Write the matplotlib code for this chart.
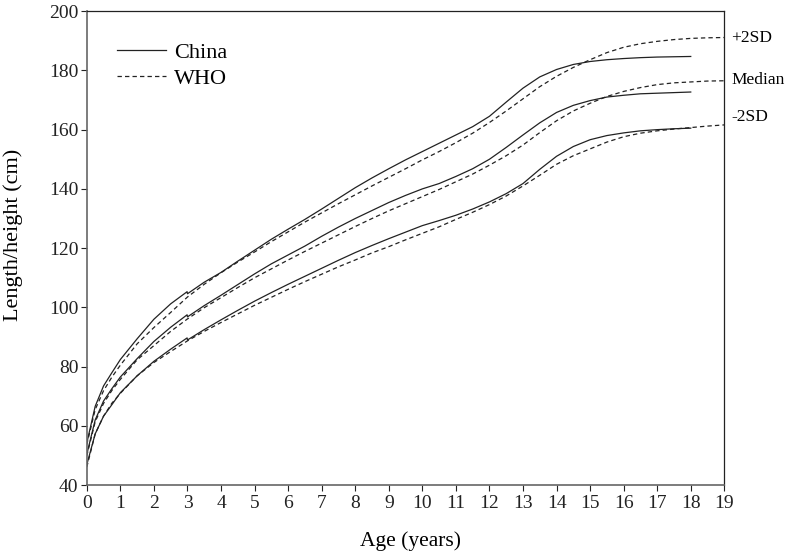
import matplotlib
matplotlib.use('Agg')
import matplotlib.pyplot as plt

plt.rcParams['font.family'] = ['Liberation Serif', 'DejaVu Serif']

# China growth standard (boys), ages 0-18; 2.99 = last lying length before standing height
age_cn = [0, 0.25, 0.5, 0.75, 1, 1.5, 2, 2.5, 2.99, 3, 3.5, 4, 4.5, 5, 5.5, 6, 6.5, 7, 7.5, 8,
          8.5, 9, 9.5, 10, 10.5, 11, 11.5, 12, 12.5, 13, 13.5, 14, 14.5, 15, 15.5, 16, 16.5,
          17, 17.5, 18]
cn_p2sd = [54.2, 66.6, 73.5, 78.0, 82.4, 89.4, 96.0, 101.2, 105.3, 104.6, 108.5, 111.8, 115.6,
           119.3, 123.0, 126.4, 129.7, 133.2, 136.8, 140.4, 143.7, 146.8, 149.8, 152.6, 155.4,
           158.2, 161.0, 164.5, 169.3, 174.0, 177.8, 180.3, 182.0, 183.0, 183.6, 184.0, 184.3,
           184.5, 184.6, 184.7]
cn_med = [50.4, 62.0, 68.4, 72.6, 76.5, 82.7, 88.5, 93.3, 97.5, 96.8, 100.6, 104.1, 107.7,
          111.3, 114.7, 117.7, 120.7, 124.0, 127.1, 130.0, 132.7, 135.4, 137.8, 140.0, 141.8,
          144.2, 146.8, 150.0, 154.0, 158.2, 162.3, 165.8, 168.2, 169.8, 171.0, 171.6, 172.1,
          172.3, 172.5, 172.7]
cn_m2sd = [46.9, 57.3, 63.3, 67.2, 71.2, 76.9, 81.8, 85.9, 89.7, 89.0, 92.5, 95.8, 99.0, 102.1,
           105.0, 107.8, 110.5, 113.2, 115.9, 118.5, 120.9, 123.2, 125.4, 127.6, 129.3, 131.1,
           133.2, 135.6, 138.4, 141.8, 146.6, 151.0, 154.3, 156.6, 158.0, 158.9, 159.6, 160.0,
           160.3, 160.5]

# WHO standard/reference (boys), ages 0-19
age_who = [0, 0.25, 0.5, 0.75, 1, 1.5, 2, 2.5, 3, 3.5, 4, 4.5, 5, 5.5, 6, 6.5, 7, 7.5, 8, 8.5,
           9, 9.5, 10, 10.5, 11, 11.5, 12, 12.5, 13, 13.5, 14, 14.5, 15, 15.5, 16, 16.5, 17,
           17.5, 18, 18.5, 19]
who_p2sd = [53.7, 65.5, 71.9, 76.5, 80.5, 87.7, 93.2, 98.3, 103.5, 107.8, 111.7, 115.3, 118.7,
            122.2, 125.5, 128.8, 131.9, 135.0, 138.0, 141.0, 143.9, 146.8, 149.8, 152.6, 155.6,
            158.8, 162.4, 166.3, 170.4, 174.5, 178.0, 181.0, 183.6, 186.0, 187.8, 189.0, 189.8,
            190.4, 190.8, 191.0, 191.1]
who_med = [49.9, 61.4, 67.6, 72.0, 75.7, 82.3, 87.1, 91.9, 96.1, 99.9, 103.3, 106.7, 110.0,
           113.0, 116.0, 118.9, 121.7, 124.5, 127.3, 130.0, 132.6, 135.0, 137.4, 139.8, 142.4,
           145.0, 148.0, 151.2, 154.8, 159.0, 163.0, 166.3, 168.9, 171.2, 172.9, 174.2, 175.2,
           175.8, 176.1, 176.4, 176.5]
who_m2sd = [46.1, 57.3, 63.3, 67.7, 71.0, 76.9, 81.4, 85.1, 88.7, 91.9, 94.9, 97.8, 100.7,
            103.4, 106.1, 108.7, 111.2, 113.7, 116.0, 118.4, 120.5, 122.8, 125.0, 127.2, 129.7,
            132.1, 134.7, 137.6, 141.0, 144.6, 148.3, 151.2, 153.5, 155.8, 157.6, 158.8, 159.6,
            160.2, 160.7, 161.2, 161.6]

side_labels = ['+2SD', 'Median', '-2SD']
side_label_y = [191.1, 176.7, 164.3]

fig = plt.figure(figsize=(7.89, 5.57), dpi=100)
ax = fig.add_axes([0.110, 0.129, 0.808, 0.851])

lw = 0.9
dash = (0, (3.5, 2.5))
ax.plot(age_cn, cn_p2sd, color='#222222', lw=lw, label='China')
ax.plot(age_who, who_p2sd, color='#222222', lw=lw, linestyle=dash, label='WHO')
for yy in [cn_med, cn_m2sd]:
    ax.plot(age_cn, yy, color='#222222', lw=lw)
for yy in [who_med, who_m2sd]:
    ax.plot(age_who, yy, color='#222222', lw=lw, linestyle=dash)

for lab, yv in zip(side_labels, side_label_y):
    ax.text(19.2, yv, lab, fontsize=12.5, ha='left', va='center', clip_on=False)

ax.set_xlim(0, 19)
ax.set_ylim(40, 200)
ax.set_xticks(range(0, 20))
ax.set_yticks(range(40, 201, 20))
ax.tick_params(direction='out', length=4, width=0.8, labelsize=14, colors='#222222')
ax.tick_params(axis='x', pad=3)
ax.tick_params(axis='y', pad=2)

for s in ['left', 'bottom']:
    ax.spines[s].set_color('#666666')
    ax.spines[s].set_linewidth(1.2)
for s in ['top', 'right']:
    ax.spines[s].set_color('#222222')
    ax.spines[s].set_linewidth(0.9)

ax.set_xlabel('Age (years)', fontsize=15.5)
ax.set_ylabel('Length/height (cm)', fontsize=16)
ax.xaxis.set_label_coords(0.507, -0.097)
ax.yaxis.set_label_coords(-0.100, 0.527)

ax.legend(loc='upper left', bbox_to_anchor=(0.047, 0.935), frameon=False, fontsize=16,
          borderpad=0, borderaxespad=0, handlelength=2.2, handletextpad=0.36,
          labelspacing=0.25)

fig.savefig('out.png', dpi=100)
